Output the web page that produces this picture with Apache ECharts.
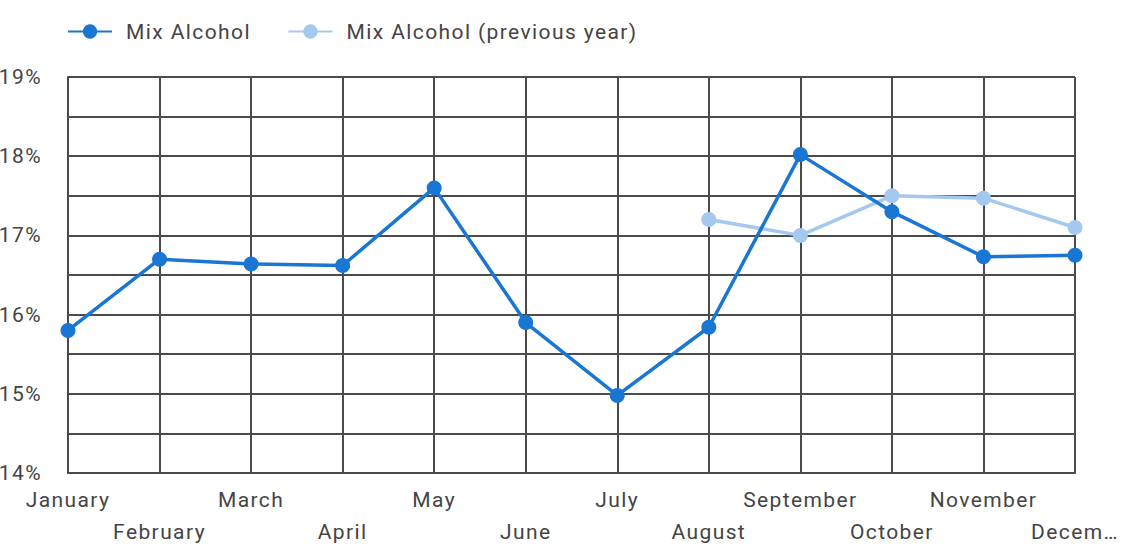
<!DOCTYPE html>
<html>
<head>
<meta charset="utf-8">
<script src="https://cdn.jsdelivr.net/npm/echarts@6/dist/echarts.min.js"></script>
<style>
  html, body { margin: 0; padding: 0; background: #fff; overflow: hidden; }
  #chart { width: 100vw; height: 100vh; }
  /* text in the reference is set a bit wider than plain Roboto */
  #chart text { letter-spacing: 1.4px; }
</style>
</head>
<body>
<div id="chart"></div>
<script>
// months on the x axis
var months = ['January', 'February', 'March', 'April', 'May', 'June',
  'July', 'August', 'September', 'October', 'November', 'December'];
// share in %
var mixAlcohol = [15.8, 16.7, 16.64, 16.62, 17.6, 15.9, 14.98, 15.84, 18.02, 17.3, 16.73, 16.75];
var mixAlcoholPrev = [null, null, null, null, null, null, null, 17.2, 17.0, 17.5, 17.47, 17.1];

var gridColor = '#4a4a4f';
var textColor = '#444';

var chart = echarts.init(document.getElementById('chart'), null, { renderer: 'svg' });
chart.setOption({
  animation: false,
  textStyle: { fontFamily: 'Roboto' },
  legend: {
    left: 62,
    top: 16,
    itemWidth: 44,
    itemHeight: 18,
    itemGap: 52,
    textStyle: { fontSize: 21, color: textColor, fontFamily: 'Roboto', padding: [0, 0, 0, 9] },
    data: ['Mix Alcohol', 'Mix Alcohol (previous year)']
  },
  grid: { left: 67, right: 52, top: 77, bottom: 67, containLabel: false },
  xAxis: {
    type: 'category',
    boundaryGap: false,
    data: months,
    axisLine: { show: true, lineStyle: { color: gridColor, width: 2 } },
    axisTick: { show: false },
    splitLine: { show: true, lineStyle: { color: gridColor, width: 2 } },
    axisLabel: {
      interval: 0,
      color: textColor,
      fontSize: 21,
      margin: 11,
      lineHeight: 32,
      formatter: function (v, i) {
        // last label is cut at the chart edge
        if (v === 'December') v = 'Decem…';
        return i % 2 === 1 ? '\n' + v : v;
      }
    }
  },
  yAxis: {
    type: 'value',
    min: 14,
    max: 19,
    interval: 0.5,
    axisLine: { show: true, lineStyle: { color: gridColor, width: 2 } },
    axisTick: { show: false },
    splitLine: { show: true, lineStyle: { color: gridColor, width: 2 } },
    axisLabel: {
      color: textColor,
      fontSize: 21,
      margin: 26,
      formatter: function (v) {
        return Math.abs(v - Math.round(v)) < 1e-6 ? Math.round(v) + '%' : '';
      }
    }
  },
  series: [
    {
      name: 'Mix Alcohol (previous year)',
      type: 'line',
      data: mixAlcoholPrev,
      symbol: 'circle',
      symbolSize: 15,
      itemStyle: { color: '#a4c8ee' },
      lineStyle: { color: '#a4c8ee', width: 3.5 }
    },
    {
      name: 'Mix Alcohol',
      type: 'line',
      data: mixAlcohol,
      symbol: 'circle',
      symbolSize: 15,
      itemStyle: { color: '#1976d2' },
      lineStyle: { color: '#1976d2', width: 3.5 }
    }
  ]
});
</script>
</body>
</html>
